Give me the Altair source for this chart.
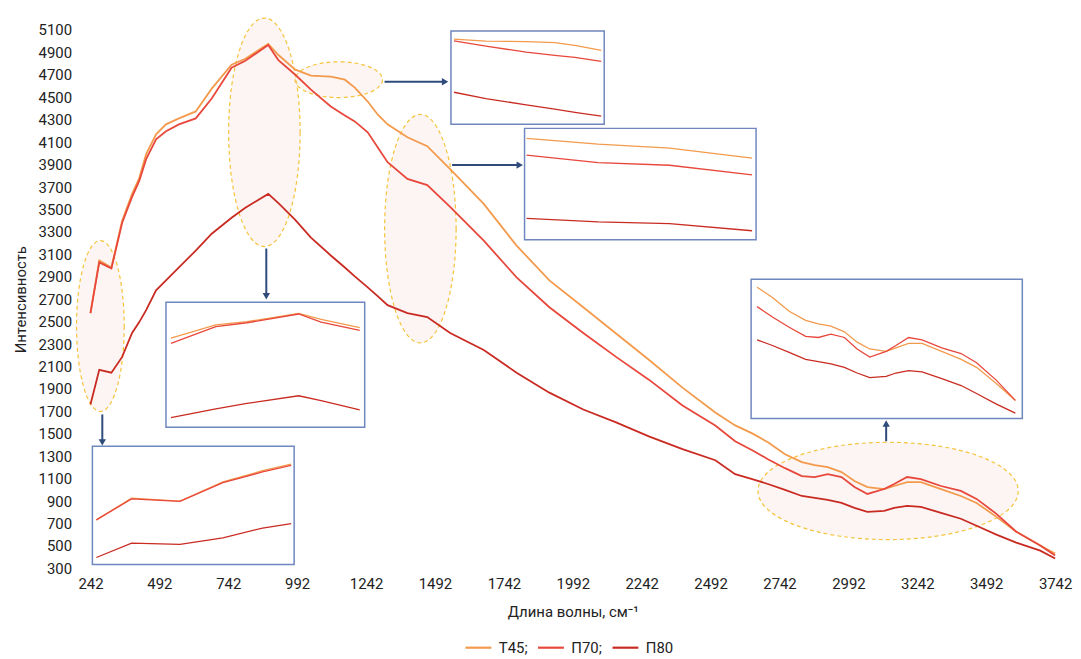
import altair as alt
import pandas as pd

# ---------------- data ----------------
wavenumber = [242, 274, 318, 357, 393, 419, 444, 480, 516, 563, 624, 682, 754, 804, 887, 923,
              985, 1042, 1114, 1165, 1201, 1248, 1284, 1320, 1392, 1464, 1547, 1669, 1788, 1907,
              2030, 2149, 2268, 2390, 2509, 2581, 2643, 2700, 2762, 2823, 2870, 2917, 2967, 3014,
              3061, 3122, 3158, 3205, 3255, 3328, 3400, 3457, 3529, 3601, 3688, 3742]
t45 = [2576, 3045, 2983, 3400, 3639, 3780, 3993, 4170, 4259, 4312, 4374, 4577, 4790, 4843, 4976, 4879,
       4746, 4693, 4684, 4657, 4586, 4462, 4347, 4259, 4144, 4064, 3860, 3550, 3178, 2868,
       2629, 2394, 2160, 1912, 1690, 1575, 1504, 1425, 1318, 1248, 1221, 1203, 1159, 1079,
       1026, 1008, 1035, 1070, 1070, 1008, 946, 884, 760, 628, 504, 433]
p70 = [2576, 3028, 2975, 3382, 3612, 3754, 3949, 4126, 4197, 4259, 4312, 4489, 4763, 4825, 4967, 4834,
       4701, 4569, 4418, 4338, 4285, 4188, 4055, 3922, 3772, 3718, 3524, 3222, 2895, 2629,
       2399, 2186, 1983, 1752, 1575, 1434, 1354, 1274, 1194, 1124, 1115, 1141, 1115, 1026,
       964, 1008, 1053, 1115, 1097, 1035, 991, 920, 787, 628, 504, 415]
p80 = [1761, 2071, 2045, 2186, 2399, 2496, 2603, 2780, 2868, 2983, 3134, 3284, 3426, 3515, 3639, 3559,
       3408, 3249, 3090, 2983, 2904, 2806, 2727, 2647, 2576, 2541, 2399, 2248, 2045, 1867,
       1717, 1602, 1478, 1363, 1265, 1141, 1097, 1053, 1000, 946, 929, 911, 884, 840,
       805, 814, 840, 858, 849, 796, 743, 681, 601, 530, 459, 389]
series_names = ["Т45", "П70", "П80"]
series_colors = ["#F39A4C", "#E8473B", "#C92B22"]
x_ticks = [242 + 250 * i for i in range(15)]
y_ticks = [300 + 200 * i for i in range(25)]

rows = []
for name, vals in zip(series_names, [t45, p70, p80]):
    for xv, yv in zip(wavenumber, vals):
        rows.append({"x": xv, "y": yv, "series": name})
df = pd.DataFrame(rows)

# ---------------- layout ----------------
W, H = 971, 542
XD = [242, 3742]
YD = [300, 5100]
FONT = "Roboto"
TXT = "#222222"


def px(v):
    return (v - XD[0]) / (XD[1] - XD[0]) * W


def py(v):
    return H - (v - YD[0]) / (YD[1] - YD[0]) * H


XU = (XD[1] - XD[0]) / W
YU = (YD[1] - YD[0]) / H

# annotations (centres / corners in data units)
ellipses = [
    dict(x=278, y=2461, rx=24, ry=86),
    dict(x=873, y=4188, rx=36, ry=115),
    dict(x=1143, y=4657, rx=44, ry=18),
    dict(x=1439, y=3329, rx=36, ry=115),
    dict(x=3136, y=991, rx=131, ry=49),
]
boxes = [
    dict(x=249, x2=981, y=335, y2=1389),
    dict(x=516, x2=1237, y=1558, y2=2673),
    dict(x=1550, x2=2106, y=4259, y2=5091),
    dict(x=1817, x2=2657, y=3231, y2=4223),
    dict(x=2639, x2=3623, y=1637, y2=2877),
]
insets = [
    dict(box=0, xdom=[242, 419], ydom=[1609, 4168], pad=(4, 3)),
    dict(box=1, xdom=[682, 985], ydom=[3126, 5158], pad=(5, 5)),
    dict(box=2, xdom=[985, 1248], ydom=[2600, 4950], pad=(3, 3)),
    dict(box=3, xdom=[1320, 1547], ydom=[2220, 4460], pad=(2, 4)),
    dict(box=4, xdom=[2643, 3601], ydom=[488, 1565], pad=(6, 7)),
]
arrows = [
    dict(x=285, y=1673, x2=285, y2=1389, head="triangle-down"),
    dict(x=880, y=3152, x2=880, y2=2691, head="triangle-down"),
    dict(x=1309, y=4639, x2=1543, y2=4639, head="triangle-right"),
    dict(x=1554, y=3896, x2=1814, y2=3896, head="triangle-right"),
    dict(x=3129, y=1434, x2=3129, y2=1628, head="triangle-up"),
]


def ellipse_path(rx, ry):
    m = max(rx, ry)
    a, b, k = rx / m, ry / m, 0.5523
    f = lambda v: f"{v:.4f}"
    p = (f"M{f(a)},0C{f(a)},{f(k*b)} {f(k*a)},{f(b)} 0,{f(b)}"
         f"C{f(-k*a)},{f(b)} {f(-a)},{f(k*b)} {f(-a)},0"
         f"C{f(-a)},{f(-k*b)} {f(-k*a)},{f(-b)} 0,{f(-b)}"
         f"C{f(k*a)},{f(-b)} {f(a)},{f(-k*b)} {f(a)},0Z")
    return p, (2 * m) ** 2


ell_df = pd.DataFrame([
    {"x": e["x"], "y": e["y"], "path": ellipse_path(e["rx"], e["ry"])[0],
     "size": ellipse_path(e["rx"], e["ry"])[1]} for e in ellipses])
box_df = pd.DataFrame(boxes)

arr_rows, head_rows = [], []
for a in arrows:
    hx, hy = a["x2"], a["y2"]
    if a["head"] == "triangle-down":
        hy = a["y2"] + 4 * YU
    elif a["head"] == "triangle-up":
        hy = a["y2"] - 4 * YU
    else:
        hx = a["x2"] - 4 * XU
    arr_rows.append({"x": a["x"], "y": a["y"], "x2": hx, "y2": hy})
    head_rows.append({"x": hx, "y": hy, "head": a["head"]})
arr_df = pd.DataFrame(arr_rows)
head_df = pd.DataFrame(head_rows)

# ---------------- encodings ----------------
xs = alt.Scale(domain=XD, nice=False, zero=False)
ys = alt.Scale(domain=YD, nice=False, zero=False)
x_axis = alt.Axis(values=x_ticks, tickCount=len(x_ticks), format="d", title="Длина волны, см⁻¹",
                  labelFontSize=15, titleFontSize=15, titleFontWeight="normal", domain=False,
                  ticks=False, grid=False, labelPadding=8, titlePadding=13, labelColor=TXT,
                  titleColor=TXT, labelFlush=False, labelOverlap=False, labelFont=FONT, titleFont=FONT)
y_axis = alt.Axis(values=y_ticks, tickCount=len(y_ticks), format="d", title="Интенсивность",
                  labelFontSize=15, titleFontSize=15, titleFontWeight="normal", domain=False,
                  ticks=False, grid=False, labelPadding=19, titlePadding=10, labelColor=TXT,
                  titleColor=TXT, labelOverlap=False, labelFont=FONT, titleFont=FONT)
color = alt.Color(
    "series:N",
    scale=alt.Scale(domain=series_names, range=series_colors),
    legend=alt.Legend(title=None, orient="none", legendX=376, legendY=607, direction="horizontal",
                      symbolType="stroke", symbolSize=676, symbolStrokeWidth=2.2,
                      labelFontSize=15, labelFont=FONT, labelColor=TXT, labelOffset=6,
                      columnPadding=6,
                      labelExpr="datum.label == 'П80' ? datum.label : datum.label + ';'"),
)

ell_layer = alt.Chart(ell_df).mark_point(
    filled=True, fill="#f7e2dc", fillOpacity=0.35, stroke="#f5c43c", strokeWidth=1.2,
    strokeDash=[4, 3], opacity=1
).encode(
    x=alt.X("x:Q", scale=xs, axis=x_axis),
    y=alt.Y("y:Q", scale=ys, axis=y_axis),
    shape=alt.Shape("path:N", scale=None),
    size=alt.Size("size:Q", scale=None),
)

lines_layer = alt.Chart(df).mark_line(strokeWidth=1.8).encode(
    x=alt.X("x:Q", scale=xs, axis=x_axis),
    y=alt.Y("y:Q", scale=ys, axis=y_axis),
    color=color,
)

box_layer = alt.Chart(box_df).mark_rect(fill="white", stroke="#6f87bf", strokeWidth=1.5).encode(
    x="x:Q", x2="x2:Q", y="y:Q", y2="y2:Q"
)

arrow_layer = alt.Chart(arr_df).mark_rule(color="#2f4b7c", strokeWidth=2).encode(
    x="x:Q", x2="x2:Q", y="y:Q", y2="y2:Q"
)
head_layer = alt.Chart(head_df).mark_point(filled=True, color="#2f4b7c", size=55, opacity=1).encode(
    x="x:Q", y="y:Q", shape=alt.Shape("head:N", scale=None)
)

main = alt.layer(ell_layer, lines_layer, box_layer, arrow_layer, head_layer)

inset_layers = []
for ins in insets:
    b = boxes[ins["box"]]
    pl, pr = ins["pad"]
    inset_layers.append(
        alt.Chart(df).transform_filter(
            alt.FieldRangePredicate(field="x", range=ins["xdom"])
        ).mark_line(strokeWidth=1.3).encode(
            x=alt.X("x:Q", scale=alt.Scale(domain=ins["xdom"], range=[px(b["x"]) + pl, px(b["x2"]) - pr],
                                           nice=False, zero=False), axis=None),
            y=alt.Y("y:Q", scale=alt.Scale(domain=ins["ydom"], range=[py(b["y"]), py(b["y2"])],
                                           nice=False, zero=False), axis=None),
            color=color,
        )
    )

chart = alt.layer(main, *inset_layers).resolve_scale(
    x="independent", y="independent"
).properties(
    width=W, height=H,
    autosize=alt.AutoSizeParams(type="none"),
    padding={"left": 83, "top": 20, "right": 18, "bottom": 89},
    background="white",
).configure(font=FONT).configure_view(stroke=None).configure_axis(labelOverlap=False)

chart.save("out.html", embed_options={"renderer": "svg", "actions": False})
